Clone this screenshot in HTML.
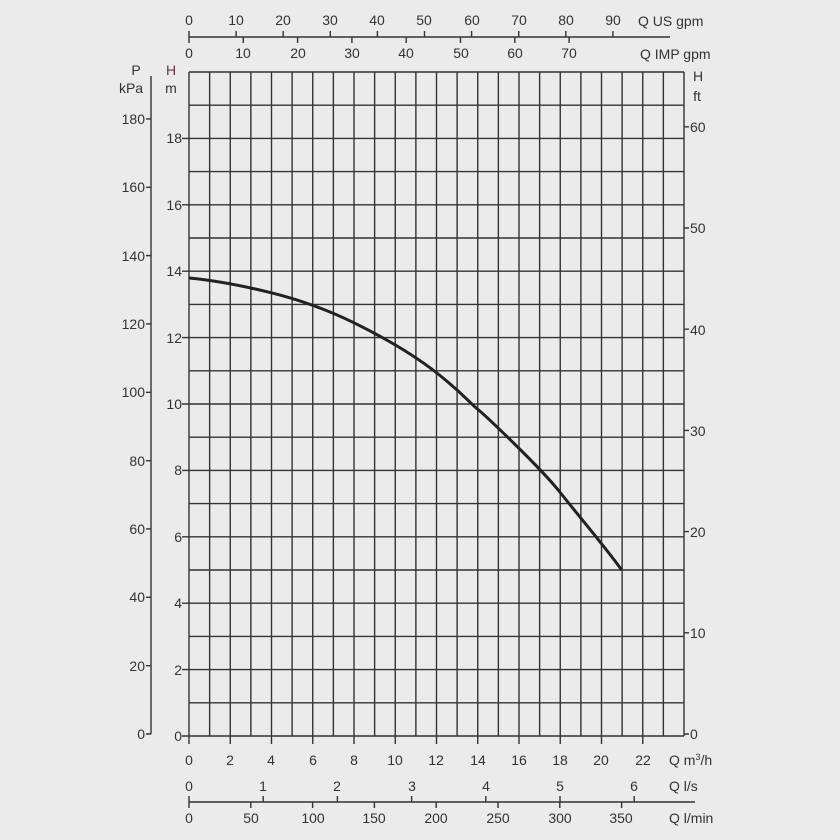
<!DOCTYPE html>
<html><head><meta charset="utf-8"><style>
html,body{margin:0;padding:0;background:#ebebeb;}
svg{display:block;font-family:"Liberation Sans",sans-serif;font-size:14px;fill:#333;}
</style></head><body>
<svg id="s" width="840" height="840" viewBox="0 0 840 840" xmlns="http://www.w3.org/2000/svg">
<rect width="840" height="840" fill="#ebebeb"/>
<g id="g" stroke="#333" stroke-width="1.4" fill="none"></g>
<path d="M189,278 C210,280 240,285 271.4,292.8 S330,311 353.8,322.7 S410,352 436.2,372.5 S470,403 477.4,409 S540,467 559.8,492 S610,553 621.6,570" stroke="#222" stroke-width="3" fill="none"/>
<g text-anchor="middle">
<text x="189" y="25">0</text><text x="236" y="25">10</text><text x="283" y="25">20</text><text x="330" y="25">30</text><text x="377" y="25">40</text><text x="424" y="25">50</text><text x="472" y="25">60</text><text x="519" y="25">70</text><text x="566" y="25">80</text><text x="613" y="25">90</text>
<text x="189" y="58">0</text><text x="243" y="58">10</text><text x="298" y="58">20</text><text x="352" y="58">30</text><text x="406" y="58">40</text><text x="461" y="58">50</text><text x="515" y="58">60</text><text x="569" y="58">70</text>
<text x="189" y="765">0</text><text x="230" y="765">2</text><text x="271" y="765">4</text><text x="313" y="765">6</text><text x="354" y="765">8</text><text x="395" y="765">10</text><text x="436" y="765">12</text><text x="478" y="765">14</text><text x="519" y="765">16</text><text x="560" y="765">18</text><text x="601" y="765">20</text><text x="643" y="765">22</text>
<text x="189" y="791">0</text><text x="263" y="791">1</text><text x="337" y="791">2</text><text x="412" y="791">3</text><text x="486" y="791">4</text><text x="560" y="791">5</text><text x="634" y="791">6</text>
<text x="189" y="823">0</text><text x="251" y="823">50</text><text x="313" y="823">100</text><text x="374" y="823">150</text><text x="436" y="823">200</text><text x="498" y="823">250</text><text x="560" y="823">300</text><text x="621" y="823">350</text>
<text x="136" y="75">P</text><text x="131" y="93">kPa</text><text x="171" y="75" fill="#634">H</text><text x="171" y="93">m</text>
<text x="698" y="81">H</text><text x="697" y="101">ft</text>
</g>
<g text-anchor="end">
<text x="145" y="124">180</text><text x="145" y="192">160</text><text x="145" y="261">140</text><text x="145" y="329">120</text><text x="145" y="397">100</text><text x="145" y="466">80</text><text x="145" y="534">60</text><text x="145" y="602">40</text><text x="145" y="671">20</text><text x="145" y="739">0</text>
<text x="182" y="143">18</text><text x="182" y="210">16</text><text x="182" y="276">14</text><text x="182" y="343">12</text><text x="182" y="409">10</text><text x="182" y="475">8</text><text x="182" y="542">6</text><text x="182" y="608">4</text><text x="182" y="675">2</text><text x="182" y="741">0</text>
</g>
<g>
<text x="690" y="132">60</text><text x="690" y="233">50</text><text x="690" y="335">40</text><text x="690" y="436">30</text><text x="690" y="537">20</text><text x="690" y="638">10</text><text x="690" y="739">0</text>
<text x="638" y="26">Q US gpm</text><text x="640" y="59">Q IMP gpm</text>
<text x="669" y="765">Q m<tspan dy="-5" font-size="9">3</tspan><tspan dy="5">/h</tspan></text>
<text x="669" y="791">Q l/s</text><text x="669" y="823">Q l/min</text>
</g>
</svg>
<script>
var g=document.getElementById('g'),d='';
function L(a,b,c,e){d+='M'+a+','+b+'L'+c+','+e;}
for(var i=0;i<=24;i++){var x=189+20.625*i;L(x,72,x,736);if(i%2==0&&i<24)L(x,736,x,744);}
for(var j=0;j<=20;j++){var y=736-33.2*j;L(189,y,684,y);if(j%2==0&&j<20)L(182,y,189,y);}
L(151,76,151,734);for(var k=0;k<=180;k+=20){var y=734-3.417*k;L(146,y,151,y);}
L(684,72,684,734);for(var f=0;f<=60;f+=10){var y=734-10.12*f;L(684,y,689,y);}
L(189,37,670,37);for(var n=0;n<=90;n+=10){var x=189+4.71*n;L(x,31,x,37);}for(var n=0;n<=70;n+=10){var x=189+5.43*n;L(x,37,x,43);}
L(189,802,695,802);for(var n=0;n<=6;n++){var x=189+74.2*n;L(x,796,x,802);}for(var n=0;n<=350;n+=50){var x=189+1.236*n;L(x,802,x,808);}
var p=document.createElementNS('http://www.w3.org/2000/svg','path');p.setAttribute('d',d);g.appendChild(p);
</script>
</body></html>
